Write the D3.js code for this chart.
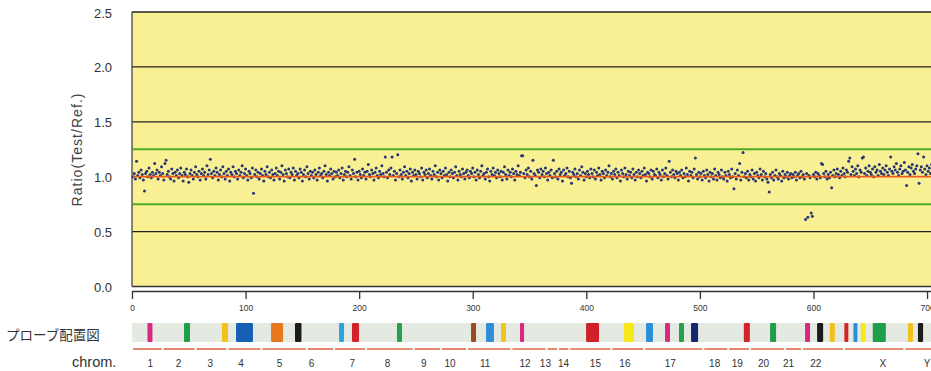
<!DOCTYPE html>
<html><head><meta charset="utf-8">
<script src="https://cdn.jsdelivr.net/npm/d3@7"></script>
<style>
html,body{margin:0;padding:0;background:#fff;}
svg{display:block;}
</style></head>
<body>
<svg id="c" width="931" height="371"></svg>
<script>
// ---- data ----
// ratio values (x100) per probe index 0..705
const ratios = [
100,103,98,114,101,104,99,106,102,97,87,103,105,100,108,102,99,104,101,112,
103,106,98,104,101,109,103,97,112,115,102,105,100,98,107,103,96,104,101,106,
99,103,108,101,96,104,102,107,100,95,103,106,101,98,104,109,102,100,105,97,
103,107,101,104,98,110,102,106,116,103,99,105,101,108,104,97,102,106,100,109,
103,98,105,101,107,96,104,102,109,100,105,103,98,106,101,104,110,99,103,107,
101,97,105,103,99,108,85,102,106,100,104,98,103,107,101,96,105,102,109,100,
104,99,106,102,97,103,108,101,105,98,104,110,102,96,106,103,100,107,99,104,
102,108,97,105,101,103,99,107,104,96,102,106,100,109,103,98,105,101,104,99,
106,102,97,104,108,101,103,99,105,110,102,96,104,101,107,103,98,105,100,104,
101,106,99,103,108,97,102,105,100,104,109,101,98,106,103,116,100,104,97,105,
102,99,107,101,104,98,105,111,102,100,106,103,97,104,108,101,99,105,102,110,
103,100,118,104,99,106,102,108,118,101,105,97,103,120,100,106,102,98,104,109,
101,105,99,103,107,96,104,101,106,102,98,105,103,100,108,97,104,102,106,99,
103,107,101,98,105,102,110,100,104,97,106,103,99,105,101,108,102,96,104,100,
106,103,99,104,109,101,97,105,102,100,107,103,98,104,106,101,99,105,103,108,
100,104,97,106,102,99,105,110,101,103,98,104,107,100,96,105,102,108,101,104,
99,106,103,100,105,97,104,109,102,98,106,101,104,100,107,103,97,105,102,110,
101,104,119,119,103,99,106,102,108,100,105,98,115,103,101,92,106,104,99,107,
102,105,100,108,103,97,104,101,106,99,115,103,100,105,98,107,102,104,96,106,
101,103,108,100,105,99,94,104,102,107,100,103,98,106,101,109,104,97,103,100,
105,102,99,107,103,100,106,98,104,101,108,102,97,105,103,99,106,101,104,110,
100,103,98,105,102,107,99,104,101,96,106,103,100,108,102,98,105,101,104,99,
107,102,97,104,100,106,103,99,105,101,108,102,96,104,103,100,106,98,105,102,
101,107,99,104,102,97,106,100,103,108,101,98,114,104,100,106,102,99,105,103,
97,104,101,106,99,103,100,108,102,96,105,101,104,99,107,117,102,98,104,100,
103,97,105,101,99,106,102,96,104,100,103,98,107,101,97,104,102,99,106,100,
98,104,101,96,105,102,99,107,100,89,103,98,106,101,112,97,104,122,100,103,
99,105,97,102,100,106,98,103,96,104,101,99,107,102,97,105,100,103,98,95,
86,102,99,104,97,101,106,100,98,103,101,96,105,99,102,100,104,98,101,103,
99,102,100,104,97,101,103,99,105,100,102,98,61,103,63,101,99,67,64,102,
100,104,98,103,101,99,112,111,103,100,105,98,102,99,104,90,101,106,100,103,
107,102,99,105,101,108,103,100,106,104,114,117,102,109,105,101,107,103,110,100,
106,104,117,118,103,108,101,105,110,104,102,107,100,109,104,106,101,111,105,103,
108,102,106,110,104,101,107,118,105,103,109,106,112,104,101,107,110,103,105,113,
106,92,104,109,102,108,111,105,103,107,110,121,94,106,109,104,118,107,102,110,
105,108,103,111,106,104
];
const yTicks = [0, 0.5, 1.0, 1.5, 2.0, 2.5];
const gridLevels = [0.5, 1.5, 2.0, 2.5];
const thresholdLevels = [0.75, 1.25];
const baseLevel = 1.0;
const xTicks = [0, 100, 200, 300, 400, 500, 600, 700];

const chromNames = ["1","2","3","4","5","6","7","8","9","10","11","12","13","14","15","16","17","18","19","20","21","22","X","Y"];
const chromStart = [0,27,56,84,114,154,178,206,248,272,295,334,365,375,385,422,451,503,525,544,575,590,627,680];
const chromEnd   = [27,56,84,114,154,178,206,248,272,295,334,365,375,385,422,451,503,525,544,575,590,627,680,712];
const chromLabelAt = [16,41,69,96,130,158,194,225,257,280,311,346,364,380,408,434,474,513,533,556,578,602,661,700];

const probeStart = [13.6,45.8,79.2,91.6,122.4,143.5,182.3,193.7,233.3,298.5,311.7,324.9,341.6,399.8,433.2,452.6,469.3,481.6,492.2,538.7,561.8,592.6,603.2,614.4,627.2,635.2,641.7,652.2,683.2,692.0];
const probeEnd   = [18.0,51.1,84.5,106.5,133.0,149.2,186.7,199.9,237.7,302.9,318.7,329.3,345.2,411.2,442.0,458.7,473.7,486.0,498.4,544.0,567.1,597.0,608.5,618.8,630.7,638.7,646.0,663.7,687.6,696.5];
const probeColor = ["#d9287f","#1f9e4a","#f0c21b","#1560b5","#e8781e","#1b1b1b","#2ba3dd","#d2232a","#26a04a","#9a4a1c","#2f8fd6","#f0c419","#d9287f","#d0202a","#f7e81a","#2a8fd6","#d9287f","#26a04a","#14286e","#d2232a","#1f9e4a","#d9287f","#1b1b1b","#f0c21b","#d2232a","#2a8fd6","#f7e81a","#1f9e4a","#f0c21b","#1b1b1b"];

// ---- drawing ----
const svg = d3.select("#c");
const x = d3.scaleLinear().domain([0, 710]).range([132, 938.4]);
const y = d3.scaleLinear().domain([0, 2.5]).range([286.5, 12]);
const numFont = "'Liberation Sans', Arial, sans-serif";

// plot background
svg.append("rect").attr("x", x(0)).attr("y", y(2.5))
  .attr("width", 931 - x(0) + 10).attr("height", y(0) - y(2.5))
  .attr("fill", "#f8f093");

// grid lines
svg.selectAll("line.grid").data(gridLevels).join("line")
  .attr("x1", x(0)).attr("x2", 940).attr("y1", d => y(d)).attr("y2", d => y(d))
  .attr("stroke", "#222").attr("stroke-width", 1.3);
svg.append("line").attr("x1", x(0)).attr("x2", 940).attr("y1", y(0)).attr("y2", y(0))
  .attr("stroke", "#333").attr("stroke-width", 1.6);
svg.append("line").attr("x1", x(0)).attr("x2", x(0)).attr("y1", y(2.5)).attr("y2", y(0))
  .attr("stroke", "#444").attr("stroke-width", 1.3);

// threshold lines
svg.selectAll("line.thr").data(thresholdLevels).join("line")
  .attr("x1", x(0) + 1).attr("x2", 940).attr("y1", d => y(d)).attr("y2", d => y(d))
  .attr("stroke", "#4caa24").attr("stroke-width", 2);

// points
svg.append("g").selectAll("circle").data(ratios).join("circle")
  .attr("cx", (d, i) => x(i + 1)).attr("cy", d => y(d / 100))
  .attr("r", 1.5).attr("fill", "#283672");

// base line
svg.append("line").attr("x1", x(0) + 1).attr("x2", 940).attr("y1", y(baseLevel)).attr("y2", y(baseLevel))
  .attr("stroke", "#ee5a1c").attr("stroke-width", 1.8);

// y axis labels
svg.selectAll("text.yl").data(yTicks).join("text")
  .attr("x", 112).attr("y", d => y(d) + 1).attr("dy", "0.35em")
  .attr("text-anchor", "end").attr("font-family", numFont).attr("font-size", 13)
  .attr("fill", "#333").text(d => d.toFixed(1));

// y title
svg.append("text")
  .attr("transform", "translate(82,150) rotate(-90)")
  .attr("text-anchor", "middle").attr("font-family", numFont).attr("font-size", 14)
  .attr("fill", "#444").attr("textLength", 113).attr("lengthAdjust", "spacing")
  .text("Ratio(Test/Ref.)");

// x axis
const xAxis = d3.axisBottom(x).tickValues(xTicks).tickSize(8).tickSizeOuter(0).tickPadding(6)
  .tickFormat(d3.format("d"));
const gx = svg.append("g").attr("transform", "translate(0,291)").call(xAxis);
gx.select(".domain").attr("stroke", "#333").attr("stroke-width", 1.4);
gx.selectAll(".tick line").attr("stroke", "#333").attr("stroke-width", 1.3);
gx.selectAll(".tick text").attr("font-family", numFont).attr("font-size", 8.5).attr("fill", "#333");

// probe map band
svg.append("rect").attr("x", x(0)).attr("y", 323).attr("width", 931 - x(0)).attr("height", 19)
  .attr("fill", "#e4e9e1");
svg.append("g").selectAll("rect").data(probeStart).join("rect")
  .attr("x", d => x(d)).attr("y", 323)
  .attr("width", (d, i) => x(probeEnd[i]) - x(d)).attr("height", 19)
  .attr("rx", 1.2)
  .attr("fill", (d, i) => probeColor[i]);

// chromosome segments
svg.append("g").selectAll("line").data(chromStart).join("line")
  .attr("x1", d => x(d) + 1).attr("x2", (d, i) => x(chromEnd[i]) - 1)
  .attr("y1", 349).attr("y2", 349)
  .attr("stroke", "#dc6a44").attr("stroke-width", 1.6);

svg.append("g").selectAll("text").data(chromNames).join("text")
  .attr("x", (d, i) => x(chromLabelAt[i])).attr("y", 367)
  .attr("text-anchor", "middle").attr("font-family", numFont).attr("font-size", 10)
  .attr("fill", "#333").text(d => d);

// left labels
svg.append("text").attr("x", 6).attr("y", 340)
  .attr("font-family", "'Noto Sans CJK JP', sans-serif").attr("font-size", 13.5)
  .attr("fill", "#333").text("プローブ配置図");
svg.append("text").attr("x", 72).attr("y", 367)
  .attr("font-family", numFont).attr("font-size", 14.5)
  .attr("fill", "#333").text("chrom.");
</script>
</body></html>
